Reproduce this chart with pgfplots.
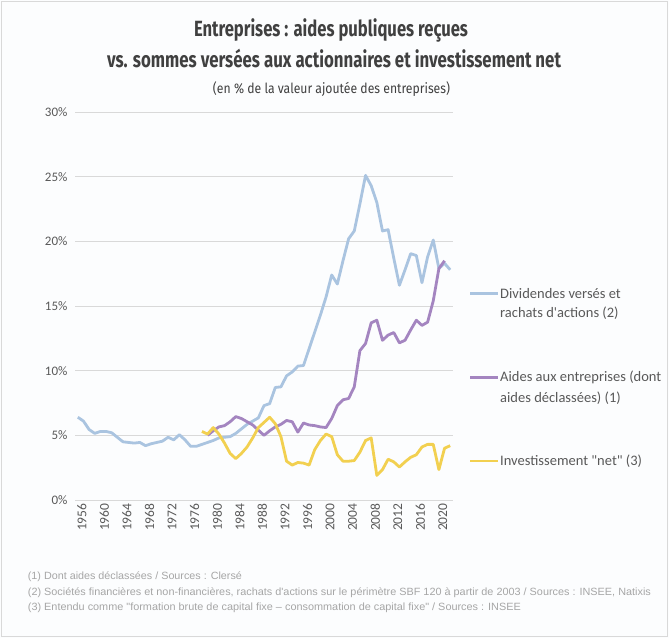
\documentclass[border=0pt]{standalone}
\usepackage{pgfplots}
\pgfplotsset{compat=1.18}
\usepackage{graphicx}
\usepackage{fontspec}
\setmainfont{Carlito}
\newfontfamily\legfont{Carlito}
\newfontfamily\titlefont{Fira Sans}
\newfontfamily\notefont{Liberation Sans}
\definecolor{cblue}{RGB}{170,196,224}
\definecolor{cpurple}{RGB}{164,133,192}
\definecolor{cyellow}{RGB}{242,208,80}
\definecolor{cgrid}{RGB}{217,217,217}
\definecolor{ctext}{RGB}{89,89,89}
\definecolor{ctitle}{RGB}{64,64,64}
\definecolor{cnote}{RGB}{166,166,166}
\definecolor{cbg}{RGB}{252,253,254}
\begin{document}
\begin{tikzpicture}
\begin{scope}[x=1pt,y=1pt]
\useasboundingbox (0,0) rectangle (669,638);
\fill[cbg] (0,0) rectangle (669,638);
\draw[cgrid,line width=1pt] (1.5,1.5) rectangle (667,636.5);
% titles
\node[anchor=base,color=ctitle,inner sep=0] at (331,601.3) {\resizebox{274pt}{\height}{\titlefont\fontsize{22}{24}\selectfont\bfseries Entreprises : aides publiques reçues}};
\node[anchor=base,color=ctitle,inner sep=0] at (334,570) {\resizebox{454pt}{\height}{\titlefont\fontsize{22}{24}\selectfont\bfseries vs. sommes versées aux actionnaires et investissement net}};
\node[anchor=base,color=ctitle,inner sep=0] at (331.5,544) {\resizebox{237pt}{\height}{\titlefont\fontsize{14}{16}\selectfont (en \% de la valeur ajoutée des entreprises)}};
\end{scope}
\begin{axis}[
  at={(75pt,138pt)}, anchor=south west,
  scale only axis, width=378pt, height=388pt,
  xmin=1955.5, xmax=2022.5, ymin=0, ymax=30,
  xtick={1956,1960,...,2020},
  ytick={0,5,...,30},
  yticklabel={\pgfmathprintnumber{\tick}\%},
  /pgf/number format/assume math mode=true,
  x tick label style={rotate=90, anchor=east, font=\fontsize{13.5}{15}\selectfont, color=ctext, /pgf/number format/1000 sep={}},
  y tick label style={font=\fontsize{13}{15}\selectfont, color=ctext},
  xticklabel style={yshift=-4pt},
  yticklabel style={xshift=-4pt},
  axis line style={draw=none},
  major tick length=0pt,
  ymajorgrids, grid style={color=cgrid, line width=0.8pt},
  clip=false,
]
\addplot[cblue, line width=2.8pt, line join=round] coordinates {
(1956,6.4)(1957,6.1)(1958,5.45)(1959,5.15)(1960,5.3)(1961,5.3)(1962,5.2)(1963,4.85)(1964,4.5)(1965,4.45)
(1966,4.4)(1967,4.45)(1968,4.2)(1969,4.35)(1970,4.45)(1971,4.55)(1972,4.85)(1973,4.65)(1974,5.05)(1975,4.65)
(1976,4.15)(1977,4.15)(1978,4.3)(1979,4.45)(1980,4.6)(1981,4.8)(1982,4.85)(1983,4.9)(1984,5.15)(1985,5.5)
(1986,5.85)(1987,6.1)(1988,6.35)(1989,7.3)(1990,7.45)(1991,8.7)(1992,8.75)(1993,9.6)(1994,9.9)(1995,10.35)
(1996,10.4)(1997,11.7)(1998,13.0)(1999,14.3)(2000,15.7)(2001,17.4)(2002,16.7)(2003,18.5)(2004,20.2)(2005,20.8)
(2006,22.9)(2007,25.1)(2008,24.3)(2009,23.0)(2010,20.8)(2011,20.9)(2012,18.7)(2013,16.6)(2014,17.8)(2015,19.05)
(2016,18.9)(2017,16.8)(2018,18.8)(2019,20.1)(2020,17.9)(2021,18.3)(2022,17.8)
};
\addplot[cpurple, line width=2.8pt, line join=round] coordinates {
(1979,5.0)(1980,5.35)(1981,5.65)(1982,5.75)(1983,6.05)(1984,6.45)(1985,6.3)(1986,6.05)(1987,5.8)(1988,5.4)
(1989,5.0)(1990,5.35)(1991,5.65)(1992,5.85)(1993,6.15)(1994,6.05)(1995,5.25)(1996,5.95)(1997,5.8)(1998,5.75)
(1999,5.65)(2000,5.6)(2001,6.3)(2002,7.3)(2003,7.75)(2004,7.85)(2005,8.75)(2006,11.55)(2007,12.1)(2008,13.7)
(2009,13.9)(2010,12.35)(2011,12.75)(2012,12.95)(2013,12.15)(2014,12.35)(2015,13.15)(2016,13.9)(2017,13.5)(2018,13.75)
(2019,15.4)(2020,17.9)(2021,18.5)
};
\addplot[cyellow, line width=2.8pt, line join=round] coordinates {
(1978,5.3)(1979,5.1)(1980,5.6)(1981,5.1)(1982,4.4)(1983,3.6)(1984,3.2)(1985,3.6)(1986,4.1)(1987,4.8)
(1988,5.6)(1989,6.0)(1990,6.4)(1991,5.9)(1992,4.9)(1993,3.0)(1994,2.7)(1995,2.9)(1996,2.85)(1997,2.7)
(1998,3.9)(1999,4.6)(2000,5.1)(2001,4.9)(2002,3.5)(2003,3.0)(2004,3.0)(2005,3.05)(2006,3.7)(2007,4.6)
(2008,4.8)(2009,1.9)(2010,2.35)(2011,3.15)(2012,2.95)(2013,2.55)(2014,2.95)(2015,3.3)(2016,3.5)(2017,4.1)
(2018,4.3)(2019,4.3)(2020,2.35)(2021,4.0)(2022,4.2)
};
\end{axis}
\begin{scope}[x=1pt,y=1pt]
% legend
\draw[cblue, line width=2.8pt] (470,344.7) -- (498,344.7);
\node[anchor=west,color=ctext,inner sep=0,font=\legfont\fontsize{14.5}{16}\selectfont] at (500,344.7) {Dividendes versés et};
\node[anchor=west,color=ctext,inner sep=0,font=\legfont\fontsize{14.5}{16}\selectfont] at (500,324.7) {rachats d'actions (2)};
\draw[cpurple, line width=2.8pt] (470,260.3) -- (498,260.3);
\node[anchor=west,color=ctext,inner sep=0,font=\legfont\fontsize{14.5}{16}\selectfont] at (500,260.3) {Aides aux entreprises (dont};
\node[anchor=west,color=ctext,inner sep=0,font=\legfont\fontsize{14.5}{16}\selectfont] at (500,239.7) {aides déclassées) (1)};
\draw[cyellow, line width=2.8pt] (470,177) -- (498,177);
\node[anchor=west,color=ctext,inner sep=0,font=\legfont\fontsize{14.5}{16}\selectfont] at (500,177) {Investissement "net" (3)};
% footnotes
\node[anchor=base west,color=cnote,inner sep=0] at (27.7,59) {\resizebox{214pt}{\height}{\notefont\fontsize{10.5}{12}\selectfont (1) Dont aides déclassées / Sources : Clersé}};
\node[anchor=base west,color=cnote,inner sep=0] at (27.7,42.5) {\resizebox{623pt}{\height}{\notefont\fontsize{10.5}{12}\selectfont (2) Sociétés financières et non-financières, rachats d'actions sur le périmètre SBF 120 à partir de 2003 / Sources : INSEE, Natixis}};
\node[anchor=base west,color=cnote,inner sep=0] at (27.7,27.5) {\resizebox{493pt}{\height}{\notefont\fontsize{10.5}{12}\selectfont (3) Entendu comme "formation brute de capital fixe – consommation de capital fixe" / Sources : INSEE}};
\end{scope}
\end{tikzpicture}
\end{document}
